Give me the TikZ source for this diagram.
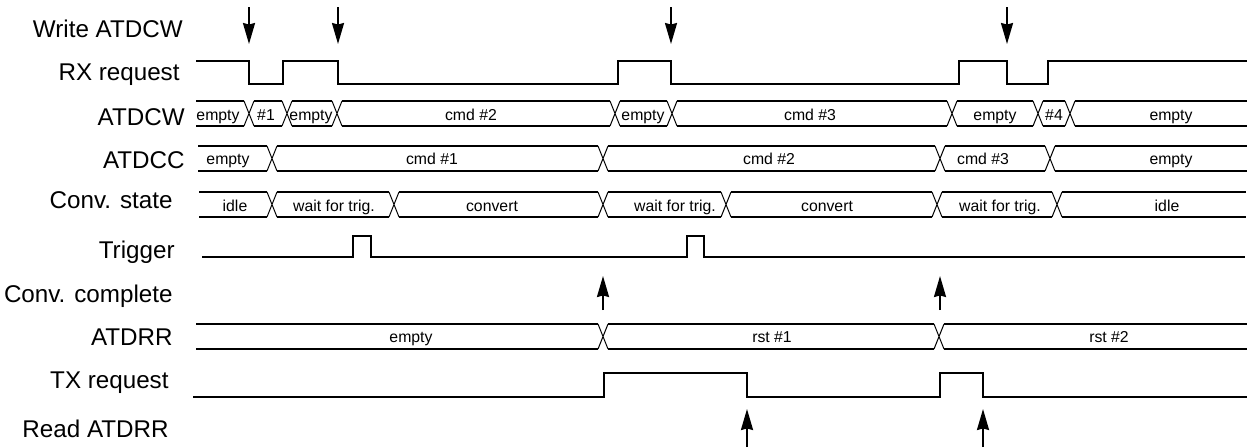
\documentclass[tikz,border=0pt]{standalone}
\usepackage{fontspec}
\setmainfont{Liberation Sans}
\usetikzlibrary{arrows.meta}

\begin{document}
\begin{tikzpicture}[
  x=0.5pt, y=-0.5pt,
  siglabel/.style={anchor=base east, inner sep=0pt, font=\fontsize{12.1}{14}\selectfont},
  bustext/.style={anchor=base, inner sep=0pt, font=\fontsize{7.9}{9}\selectfont},
  wave/.style={line width=1pt},
  cross/.style={line width=0.5pt},
  evarrow/.style={line width=1pt, -{Stealth[length=10.5pt, width=6pt, inset=0.8pt]}}
]
\useasboundingbox (0,0) rectangle (1247,447);

% signal names
\node[siglabel] (lwr)  at (183,37)  {Write ATDCW};
\node[siglabel] (lrx)  at (180,80)  {RX request};
\node[siglabel] (lcw)  at (185,125) {ATDCW};
\node[siglabel] (lcc)  at (185,168) {ATDCC};
\node[siglabel] (lst)  at (173,208) {Conv. state};
\node[siglabel] (ltr)  at (175,258) {Trigger};
\node[siglabel] (lcp)  at (173,302) {Conv. complete};
\node[siglabel] (lrr)  at (173,345) {ATDRR};
\node[siglabel] (ltx)  at (169,388) {TX request};
\node[siglabel] (lrd)  at (169,437) {Read ATDRR};

% Write ATDCW events
\foreach \x in {249,338,671,1007}
  \draw[evarrow] (\x,7) -- (\x,44);

% RX request
\draw[wave] (196,61) -- (249,61) -- (249,84) -- (283,84) -- (283,61) -- (338,61)
  -- (338,84) -- (618,84) -- (618,61) -- (671,61) -- (671,84) -- (959,84)
  -- (959,61) -- (1007,61) -- (1007,84) -- (1048,84) -- (1048,61) -- (1247,61);

% ATDCW bus
\foreach \a/\b in {191/249,249/287,287/337,337/615,615/672,672/952,952/1038,1038/1070,1070/1252}
  \draw[wave] (\a+5,101) -- (\b-5,101) (\a+5,126) -- (\b-5,126);
\foreach \c in {249,287,337,615,672,952,1038,1070}
  \draw[cross] (\c-5,101) -- (\c+5,126) (\c-5,126) -- (\c+5,101);
\node[bustext] (cw1) at (218,120)  {empty};
\node[bustext] (cw2) at (266,120)  {\#1};
\node[bustext] (cw3) at (311,120)  {empty};
\node[bustext] (cw4) at (471,120)  {cmd \#2};
\node[bustext] (cw5) at (643,120)  {empty};
\node[bustext] (cw6) at (810,120)  {cmd \#3};
\node[bustext] (cw7) at (995,120)  {empty};
\node[bustext] (cw8) at (1054,120) {\#4};
\node[bustext] (cw9) at (1171,120) {empty};

% ATDCC bus
\foreach \a/\b in {193/272,272/603,603/940,940/1050,1050/1252}
  \draw[wave] (\a+5,146) -- (\b-5,146) (\a+5,171) -- (\b-5,171);
\foreach \c in {272,603,940,1050}
  \draw[cross] (\c-5,146) -- (\c+5,171) (\c-5,171) -- (\c+5,146);
\node[bustext] (cc1) at (228,164)  {empty};
\node[bustext] (cc2) at (432,164)  {cmd \#1};
\node[bustext] (cc3) at (769,164)  {cmd \#2};
\node[bustext] (cc4) at (983,164)  {cmd \#3};
\node[bustext] (cc5) at (1171,164) {empty};

% conversion state
\foreach \a/\b in {194/272,272/394,394/603,603/726,726/937,937/1057,1057/1251}
  \draw[wave] (\a+5,192) -- (\b-5,192) (\a+5,217) -- (\b-5,217);
\foreach \c in {272,394,603,726,937,1057}
  \draw[cross] (\c-5,192) -- (\c+5,217) (\c-5,217) -- (\c+5,192);
\node[bustext] (cs1) at (235,211)  {idle};
\node[bustext] (cs2) at (334,211)  {wait for trig.};
\node[bustext] (cs3) at (492,211)  {convert};
\node[bustext] (cs4) at (675,211)  {wait for trig.};
\node[bustext] (cs5) at (827,211)  {convert};
\node[bustext] (cs6) at (1000,211) {wait for trig.};
\node[bustext] (cs7) at (1167,211) {idle};

% Trigger
\draw[wave] (202,257) -- (353,257) -- (353,236) -- (371,236) -- (371,257)
  -- (687,257) -- (687,236) -- (704,236) -- (704,257) -- (1245,257);

% conversion complete
\foreach \x in {603,940}
  \draw[evarrow] (\x,310) -- (\x,276);

% ATDRR bus
\foreach \a/\b in {191/603,603/939,939/1252}
  \draw[wave] (\a+5,324) -- (\b-5,324) (\a+5,349) -- (\b-5,349);
\foreach \c in {603,939}
  \draw[cross] (\c-5,324) -- (\c+5,349) (\c-5,349) -- (\c+5,324);
\node[bustext] (rr1) at (411,342)  {empty};
\node[bustext] (rr2) at (772,342)  {rst \#1};
\node[bustext] (rr3) at (1109,342) {rst \#2};

% TX request
\draw[wave] (193,397) -- (604,397) -- (604,373) -- (747,373) -- (747,397)
  -- (940,397) -- (940,373) -- (983,373) -- (983,397) -- (1247,397);

% Read ATDRR events
\foreach \x in {747,983}
  \draw[evarrow] (\x,447) -- (\x,409);

\end{tikzpicture}
\end{document}
